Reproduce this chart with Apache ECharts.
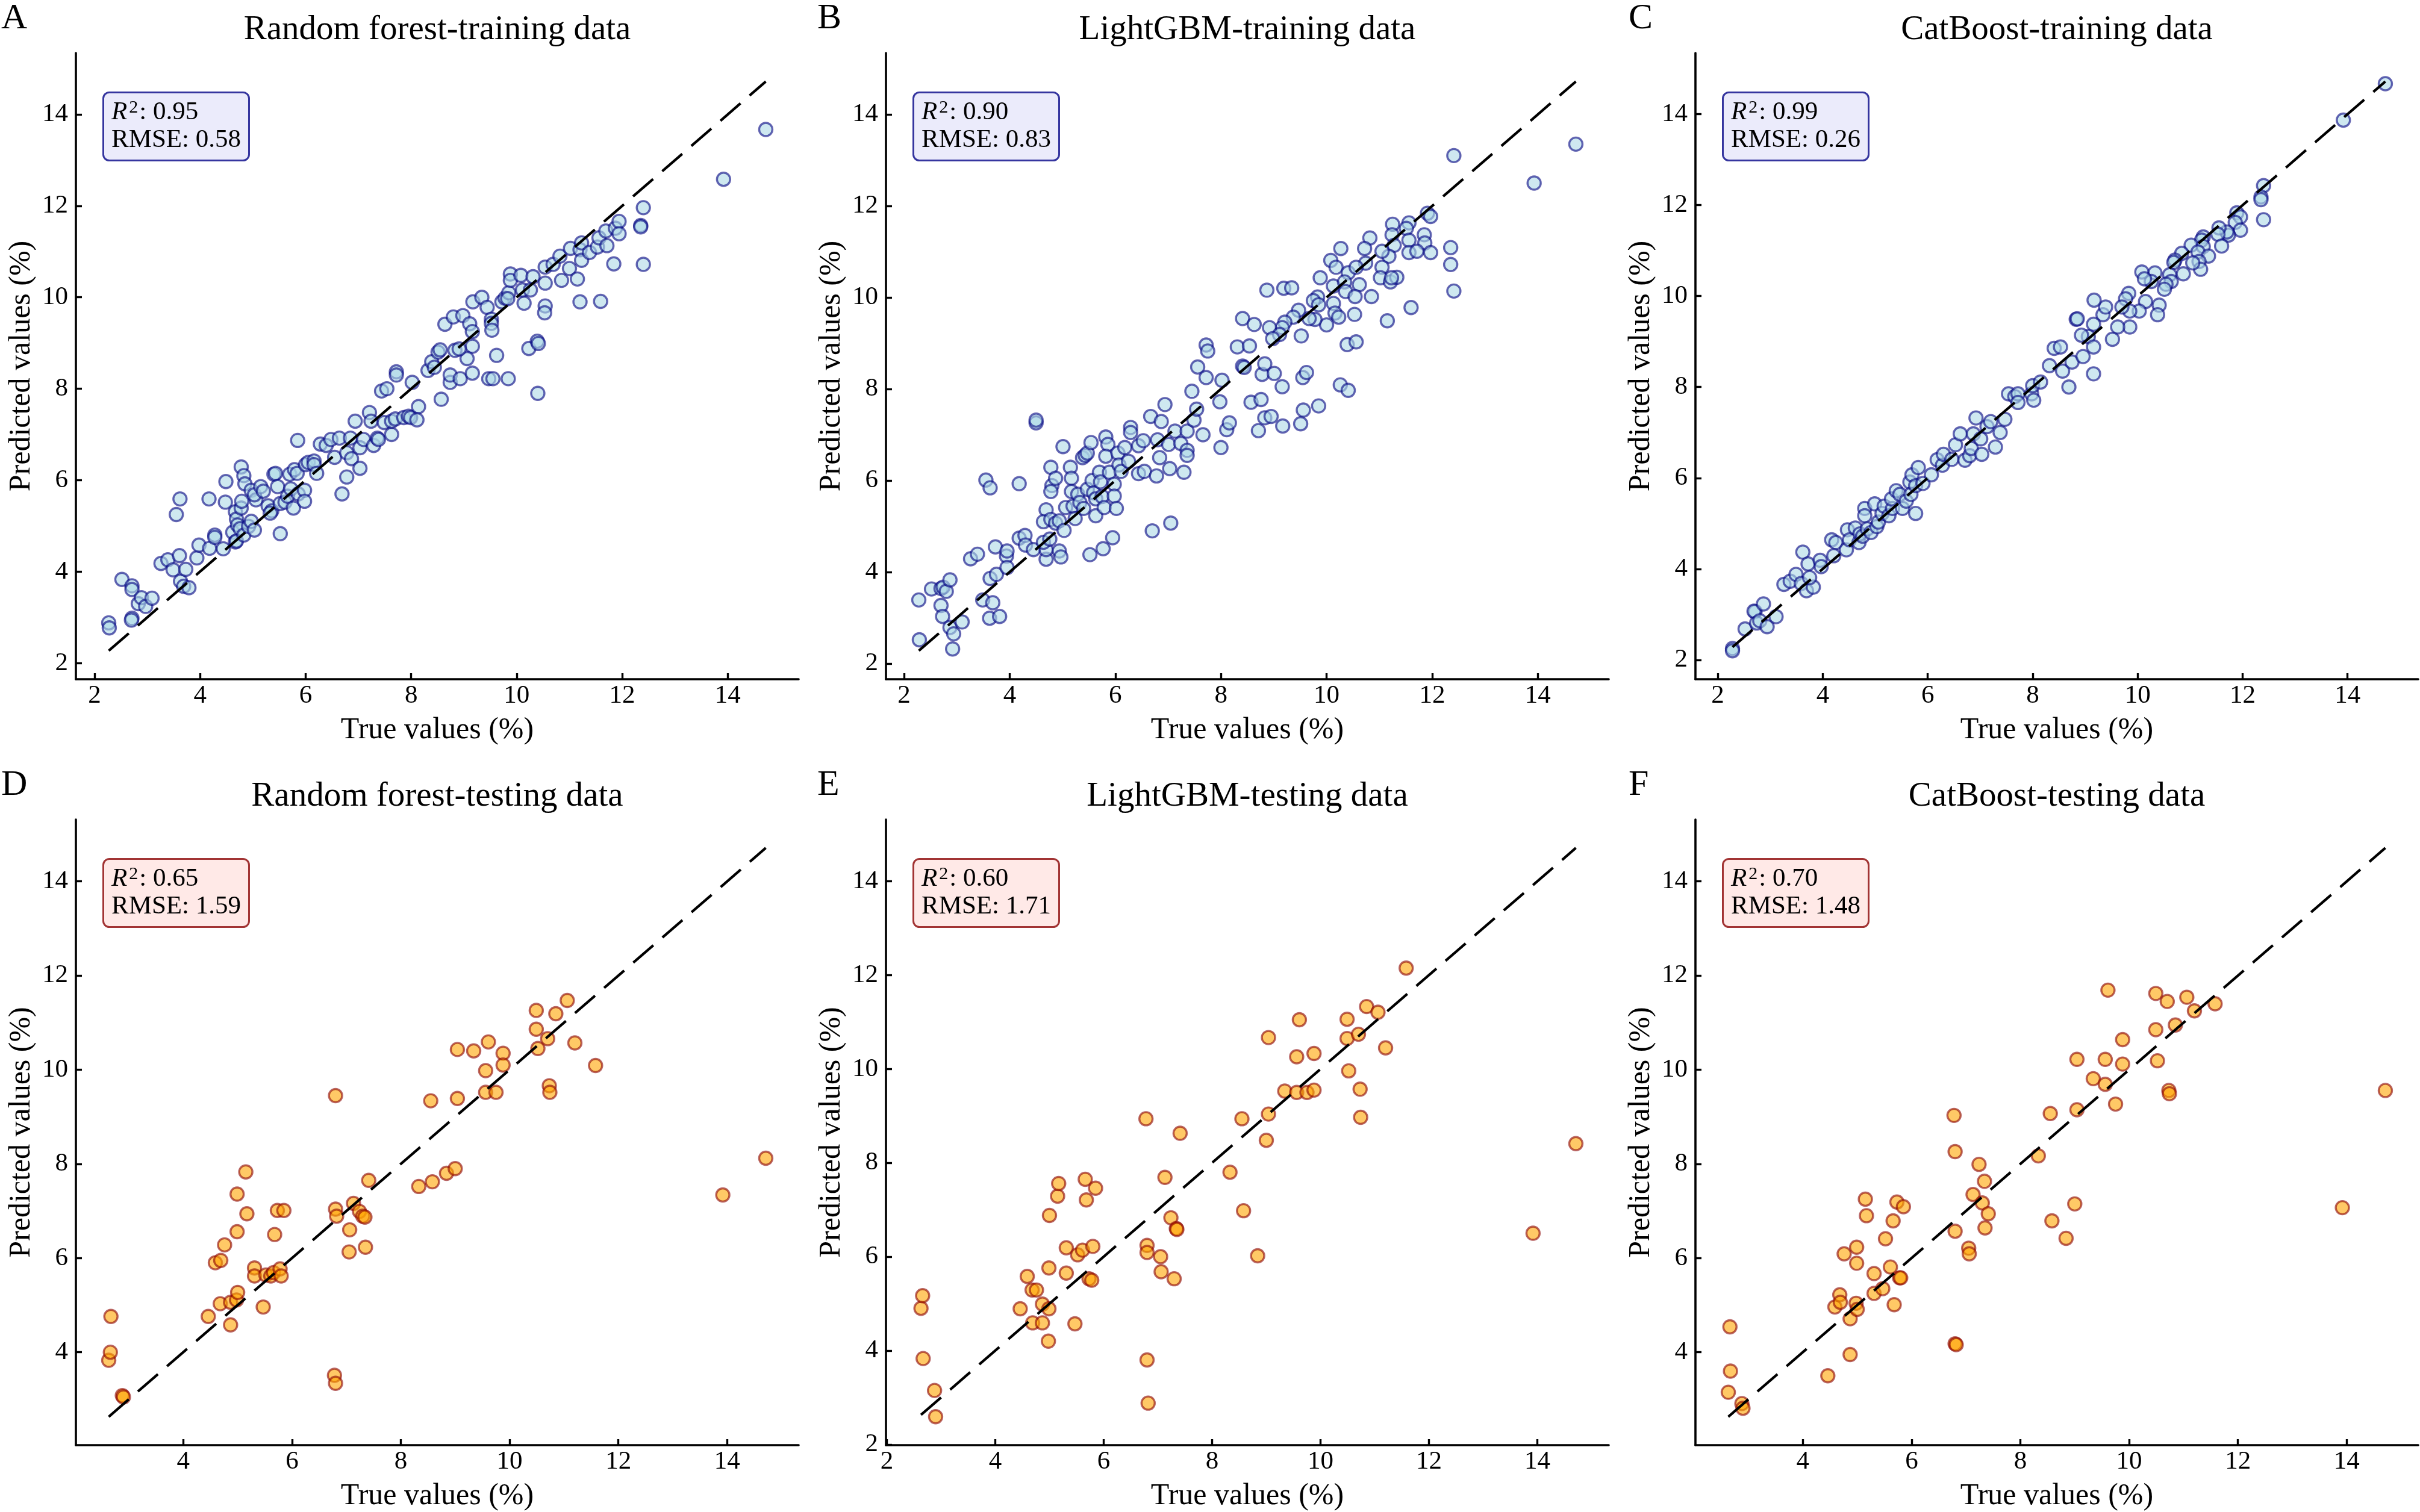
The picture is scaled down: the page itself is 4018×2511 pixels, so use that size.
<!DOCTYPE html>
<html>
<head>
<meta charset="utf-8">
<title>True vs predicted values</title>
<script src="https://cdn.jsdelivr.net/npm/echarts@6.0.0/dist/echarts.min.js"></script>
<style>
  html, body { margin: 0; padding: 0; background: #fff; }
  #chart { width: 4018px; height: 2511px; }
</style>
</head>
<body>
<div id="chart"></div>
<script>
// ---- data ----
var tickValues = [2, 4, 6, 8, 10, 12, 14];

var panelLetters = ['A', 'B', 'C', 'D', 'E', 'F'];
var panelTitles = [
  'Random forest-training data', 'LightGBM-training data', 'CatBoost-training data',
  'Random forest-testing data', 'LightGBM-testing data', 'CatBoost-testing data'
];
var r2Values = ['0.95', '0.90', '0.99', '0.65', '0.60', '0.70'];
var rmseValues = ['0.58', '0.83', '0.26', '1.59', '1.71', '1.48'];

// Random forest, training
var rfTrainTrue = [2.27,2.28,2.52,2.71,2.71,2.71,2.70,2.83,2.89,2.97,3.09,3.26,3.39,3.49,3.55,3.62,3.61,3.63,3.69,3.79,
  3.73,3.94,3.98,4.18,4.17,4.28,4.28,4.44,4.48,4.49,4.62,4.67,4.69,4.78,4.83,4.67,4.69,4.71,4.78,4.79,
  4.76,4.83,4.92,4.97,5.03,4.85,4.97,5.06,5.03,5.15,5.20,5.40,5.43,5.29,5.36,5.33,5.52,5.47,5.52,5.61,
  5.66,5.70,5.77,5.79,5.84,5.72,5.86,5.98,5.98,6.00,6.05,6.16,6.16,6.21,5.85,6.28,6.39,6.48,6.55,6.64,
  6.69,6.78,6.78,6.87,6.85,6.94,7.03,7.03,7.10,7.21,7.24,7.29,7.36,7.38,7.44,7.54,7.49,7.63,7.63,7.72,
  7.72,7.70,7.86,8.02,7.95,7.99,8.14,8.11,8.32,8.39,8.44,8.51,8.55,8.57,8.74,8.74,8.64,8.80,
  8.98,9.11,9.16,9.17,9.34,9.44,9.52,9.52,9.53,9.62,9.16,9.06,8.83,8.91,8.93,9.16,9.47,9.55,9.84,10.40,
  10.23,10.39,10.41,9.72,9.78,9.85,9.83,10.14,10.11,10.26,9.88,9.88,10.08,10.31,10.54,10.53,10.54,10.54,10.69,10.85,
  11.00,11.15,11.20,11.59,10.82,11.02,11.20,11.23,11.23,11.38,11.53,11.56,11.71,11.69,11.87,11.94,11.94,11.84,12.35,12.35,
  12.40,12.40,13.92,14.72];
var rfTrainPred = [2.88,2.77,3.83,3.69,3.61,2.98,2.94,3.30,3.43,3.24,3.42,4.18,4.26,4.04,5.25,5.59,4.35,3.79,3.68,3.65,
  4.05,4.30,4.58,4.51,5.59,4.80,4.75,4.50,5.52,5.97,4.86,4.65,4.67,6.29,6.10,5.31,5.15,5.02,5.39,5.54,
  4.94,4.80,4.99,5.10,4.91,5.92,5.78,5.57,5.68,5.86,5.76,6.13,6.15,5.44,5.33,5.28,4.83,5.86,5.49,5.52,
  5.65,6.13,5.39,6.23,6.15,5.81,5.70,5.78,5.54,6.34,6.39,6.42,6.34,6.15,6.87,6.79,6.76,6.89,6.50,6.92,
  5.70,6.07,6.60,6.47,6.92,7.29,6.26,6.71,6.89,7.48,7.29,6.76,6.92,6.89,7.95,8.00,7.26,7.00,7.29,8.37,
  8.30,7.34,7.37,8.14,7.40,7.37,7.61,7.32,8.40,8.59,8.47,8.80,8.85,7.77,8.14,8.30,9.41,9.57,
  9.60,9.42,9.25,9.90,10.00,9.78,9.52,9.43,9.28,8.73,8.93,8.66,8.84,8.87,8.22,8.34,8.22,8.22,8.22,7.90,
  8.88,9.04,8.99,9.90,9.98,10.10,9.97,9.87,10.16,10.16,10.51,10.37,10.48,10.45,9.81,9.66,10.31,10.66,10.72,10.37,
  10.63,10.40,9.90,9.91,10.90,11.07,11.04,11.19,10.81,10.98,11.10,11.30,11.13,11.45,11.51,11.66,11.39,10.73,11.57,11.54,
  11.96,10.72,12.58,13.67];

// LightGBM, training
var lgbTrainTrue = [2.29,2.28,2.52,2.70,2.74,2.80,2.87,2.70,2.73,2.87,2.94,2.92,3.10,3.26,3.39,3.49,3.55,3.63,3.63,3.68,
  3.62,3.81,3.73,3.75,3.94,3.95,3.95,4.18,4.18,4.29,4.30,4.45,4.50,4.50,4.69,4.64,4.69,4.69,4.64,4.76,
  4.78,4.78,4.80,4.78,4.87,4.94,4.97,4.87,4.94,5.03,5.06,5.01,5.15,5.17,5.17,5.20,5.24,5.29,5.33,5.38,
  5.43,5.47,5.40,5.47,5.52,5.54,5.56,5.59,5.63,5.63,5.70,5.72,5.75,5.77,5.79,5.82,5.86,5.82,5.89,5.98,
  5.98,6.02,5.95,6.05,6.07,6.11,6.18,6.25,6.29,6.29,6.44,6.44,6.55,6.53,6.67,6.70,6.78,6.80,6.84,6.87,
  6.94,7.03,7.01,7.05,7.13,7.24,7.36,7.36,7.30,7.36,7.45,7.49,7.54,7.66,7.56,7.72,7.72,7.75,7.98,8.00,
  8.02,8.11,8.16,8.31,8.41,8.54,8.41,8.44,8.57,8.71,8.76,8.63,8.78,8.83,
  14.72,13.93,12.41,12.35,12.35,12.41,11.91,11.97,11.56,11.51,11.25,11.24,11.28,11.85,11.86,11.56,11.56,11.71,11.97,11.18,
  11.05,10.82,10.72,10.74,11.05,11.02,11.21,11.33,11.23,11.15,11.60,10.27,10.08,10.18,10.41,10.56,9.88,10.13,10.34,10.62,
  10.36,10.54,10.85,10.53,8.87,9.19,9.34,9.83,9.75,9.85,10.13,10.16,10.23,10.00,9.78,9.67,9.47,9.37,9.21,9.16,
  8.92,9.11,8.98,9.52,10.39,10.56,8.83,9.01,9.16,9.55,9.62,10.26,10.41,9.85,9.56,9.51,9.17,8.95];
var lgbTrainPred = [2.52,3.39,3.63,3.64,3.67,3.58,3.83,3.27,3.03,2.79,2.65,2.32,2.91,4.29,4.39,3.39,6.01,5.84,3.86,3.33,
  2.99,3.03,4.55,3.95,4.35,4.46,4.10,5.93,4.74,4.80,4.59,4.49,7.26,7.32,5.36,5.10,4.28,4.49,4.65,4.72,
  5.15,6.29,5.89,5.76,6.05,4.46,4.33,5.07,5.12,4.91,5.41,6.74,6.29,6.05,5.76,5.44,5.17,5.70,5.52,6.50,
  6.55,6.60,5.39,5.81,4.38,6.83,6.00,5.73,5.23,5.60,6.18,5.97,5.65,4.51,5.41,6.95,6.79,6.53,6.18,5.92,
  5.66,5.39,4.75,6.60,6.34,6.20,6.72,6.42,7.16,7.05,6.76,6.15,6.20,6.87,7.40,4.90,6.10,6.89,6.50,7.29,
  7.66,6.26,6.79,5.07,7.08,6.81,6.66,6.55,6.18,7.08,7.95,7.32,7.56,7.00,8.48,8.25,8.96,8.83,7.72,6.72,
  8.19,7.11,7.26,8.92,9.54,8.94,8.50,8.47,7.71,7.09,7.77,9.41,8.32,7.37,
  13.35,12.50,13.10,11.09,10.72,10.14,11.84,11.77,11.63,11.51,11.60,11.37,11.14,11.37,11.19,11.25,10.98,11.01,10.98,10.90,
  11.01,11.30,11.07,10.75,10.66,10.43,10.34,10.44,10.43,9.49,9.78,11.07,10.81,10.66,10.54,10.66,10.43,10.25,10.34,10.28,
  10.13,10.02,10.02,9.63,10.16,10.20,10.21,10.01,9.93,9.84,9.87,9.66,9.57,9.40,9.52,9.54,9.72,9.57,9.46,9.34,
  9.34,9.19,9.10,9.16,8.97,9.03,8.55,8.34,8.05,8.25,8.36,8.09,7.97,7.63,7.54,7.24,7.19,7.40];

// CatBoost, training
var catTrainTrue = [2.28,2.28,2.52,2.71,2.69,2.87,2.74,2.80,2.94,3.11,3.26,3.38,3.49,3.62,3.59,3.69,3.82,3.72,3.75,3.95,
  3.97,4.17,4.25,4.21,4.45,4.47,4.51,4.62,4.69,4.71,4.76,4.80,4.80,4.85,4.92,4.99,5.03,5.06,5.13,5.17,
  5.26,5.33,5.31,5.40,5.47,5.52,5.59,5.66,5.70,5.68,5.77,5.77,5.82,5.91,6.07,6.18,6.28,6.30,6.46,6.53,
  6.62,6.71,6.80,6.83,6.92,6.87,7.01,7.03,7.13,7.20,7.29,7.38,7.47,7.54,7.66,7.72,7.72,7.98,8.00,8.15,
  8.02,8.32,8.41,8.53,8.57,8.69,8.75,8.83,
  12.40,12.35,12.35,12.40,11.89,11.96,11.86,11.96,11.73,11.70,11.55,11.53,11.60,11.25,11.22,11.02,11.25,11.15,11.35,11.17,
  11.20,11.05,10.84,10.71,10.69,10.87,10.61,10.64,10.54,10.51,10.33,10.26,10.08,10.13,10.15,10.41,10.38,10.03,9.85,9.83,
  9.77,9.70,9.85,9.62,9.52,9.34,9.39,9.17,8.85,9.16,9.06,9.16,8.93,9.16,8.96,13.92,14.72];
var catTrainPred = [2.25,2.20,2.68,3.06,3.07,3.23,2.81,2.86,2.73,2.95,3.66,3.73,3.88,4.37,3.68,3.52,3.60,4.11,3.81,4.19,
  4.05,4.64,4.58,4.29,4.42,4.86,4.64,4.90,4.58,4.77,4.72,5.33,5.17,4.88,4.80,5.43,4.93,5.03,5.22,5.38,
  5.17,5.33,5.54,5.72,5.64,5.33,5.49,5.91,6.07,5.64,5.22,5.83,6.23,5.88,6.07,6.40,6.28,6.52,6.41,6.73,
  6.97,6.39,6.49,6.65,7.32,6.97,6.86,6.52,7.13,7.24,6.68,7.00,7.29,7.85,7.79,7.85,7.66,7.85,8.03,8.11,
  7.71,8.47,8.85,8.88,8.35,8.00,8.55,9.49,
  12.43,12.18,12.12,11.68,11.83,11.74,11.62,11.45,11.34,11.41,11.50,11.36,11.10,11.30,11.23,11.12,11.09,10.97,10.88,10.76,
  10.59,10.73,10.94,10.79,10.74,10.49,10.47,10.32,10.26,10.15,10.51,10.32,10.53,10.38,9.88,9.80,9.59,9.67,9.67,10.06,
  9.94,9.76,9.32,9.32,9.05,9.59,9.76,9.91,9.50,9.38,9.11,8.88,9.14,8.29,8.67,13.87,14.67];

// testing set: the true values are shared by the three models
var testTrue = [2.63,2.66,2.67,2.88,2.90,4.46,4.59,4.68,4.69,4.76,4.87,4.87,4.98,4.99,4.99,5.00,5.15,5.17,5.31,5.31,
  5.47,5.52,5.61,5.66,5.68,5.73,5.78,5.80,5.85,6.78,6.80,6.80,6.80,6.82,7.05,7.06,7.13,7.24,7.30,7.34,
  7.35,7.41,8.33,8.55,8.58,8.84,9.00,9.04,9.04,9.34,9.56,9.56,9.61,9.75,9.88,9.88,10.49,10.49,10.52,10.70,
  10.73,10.74,10.85,11.06,11.20,11.58,13.92,14.71];
var rfTestPred = [3.83,4.00,4.76,3.08,3.05,4.76,5.90,5.03,5.95,6.28,4.58,5.06,5.11,6.56,7.36,5.27,7.83,6.94,5.79,5.62,
  4.96,5.64,5.62,5.69,6.50,7.01,5.77,5.62,7.01,3.51,9.45,7.04,3.34,6.89,6.13,6.60,7.16,6.99,6.89,6.87,
  6.23,7.65,7.52,9.34,7.62,7.80,7.90,9.39,10.43,10.40,9.98,9.52,10.59,9.52,10.35,10.10,11.26,10.86,10.45,10.66,
  9.66,9.52,11.19,11.47,10.57,10.09,7.34,8.12];
var lgbTestPred = [4.90,5.17,3.83,3.15,2.59,4.89,5.58,5.29,4.59,5.29,4.99,4.59,4.20,4.89,5.76,6.88,7.29,7.56,6.19,5.65,
  4.57,6.04,6.14,7.65,7.21,5.53,5.50,6.22,7.46,8.94,6.24,6.09,3.80,2.88,6.00,5.68,7.69,6.83,5.53,6.60,
  6.58,8.63,7.80,8.94,6.98,6.02,8.48,9.04,10.67,9.53,10.26,9.50,11.05,9.50,9.55,10.33,11.06,10.65,9.96,10.74,
  9.57,8.97,11.33,11.21,10.45,12.15,6.50,8.41];
var catTestPred = [3.15,4.54,3.60,2.91,2.81,3.50,4.96,5.22,5.06,6.09,4.71,3.95,5.04,6.23,5.89,4.91,7.25,6.90,5.67,5.25,
  5.35,6.41,5.81,6.79,5.01,7.19,5.58,5.58,7.09,9.03,8.26,6.57,4.18,4.16,6.21,6.09,7.35,7.99,7.17,7.63,
  6.64,6.94,8.17,9.07,6.79,6.42,7.15,9.15,10.22,9.81,10.22,9.69,11.69,9.27,10.12,10.64,11.62,10.85,10.19,11.45,
  9.56,9.49,10.95,11.54,11.25,11.40,7.07,9.56];

var panelX = [rfTrainTrue, lgbTrainTrue, catTrainTrue, testTrue, testTrue, testTrue];
var panelY = [rfTrainPred, lgbTrainPred, catTrainPred, rfTestPred, lgbTestPred, catTestPred];

// ---- layout / style ----
var FONT = 'Liberation Serif';
var colLeft = [126, 1471, 2815];
var letterLeft = [2, 1357, 2704];
var rowTop = [88, 1361];
var GRID_W = 1200, GRID_H = 1040;

var looks = {
  train: { fill: '#add8e6', edge: '#000080', boxFill: '#ebebfb', boxEdge: '#35359f' },
  test:  { fill: '#ffa500', edge: '#8b0000', boxFill: '#ffe9e7', boxEdge: '#a23434' }
};

function axisCommon(ticks, name, isX) {
  return {
    type: 'value',
    name: name,
    nameLocation: 'middle',
    nameGap: isX ? 60 : 65,
    nameTextStyle: { fontFamily: FONT, fontSize: 50, color: '#000' },
    axisLine: { show: true, onZero: false, lineStyle: { color: '#000', width: 3.6 } },
    axisTick: { show: true, inside: true, length: 10, customValues: ticks, lineStyle: { color: '#000', width: 3.4 } },
    axisLabel: { show: true, customValues: ticks, margin: isX ? 6 : 13, fontFamily: FONT, fontSize: 43, color: '#000' },
    splitLine: { show: false }
  };
}

var grids = [], xAxes = [], yAxes = [], series = [], titles = [], graphics = [];

panelX.forEach(function (xs, i) {
  var ys = panelY[i];
  var col = i % 3, row = Math.floor(i / 3);
  var left = colLeft[col], top = rowTop[row];
  var look = row === 0 ? looks.train : looks.test;

  var all = xs.concat(ys);
  var lo = Math.min.apply(null, all), hi = Math.max.apply(null, all);
  var pad = (hi - lo) * 0.05;
  var min = lo - pad, max = hi + pad;
  var ticks = tickValues.filter(function (v) { return v >= min && v <= max; });

  grids.push({ left: left, top: top, width: GRID_W, height: GRID_H });

  var xa = axisCommon(ticks, 'True values (%)', true);
  xa.gridIndex = i; xa.min = min; xa.max = max;
  xAxes.push(xa);
  var ya = axisCommon(ticks, 'Predicted values (%)', false);
  ya.gridIndex = i; ya.min = min; ya.max = max;
  yAxes.push(ya);

  series.push({
    type: 'scatter',
    xAxisIndex: i, yAxisIndex: i,
    symbol: 'circle',
    symbolSize: 22,
    data: xs.map(function (v, k) { return [v, ys[k]]; }),
    itemStyle: { color: look.fill, borderColor: look.edge, borderWidth: 3.4, opacity: 0.6 },
    z: 2
  });

  var tMin = Math.min.apply(null, xs), tMax = Math.max.apply(null, xs);
  series.push({
    type: 'line',
    xAxisIndex: i, yAxisIndex: i,
    data: [[tMin, tMin], [tMax, tMax]],
    symbol: 'none',
    silent: true,
    lineStyle: { color: '#000', width: 4.3, type: [44, 20] },
    z: 3
  });

  titles.push({
    text: '{i|R}{s|2}: ' + r2Values[i] + '\nRMSE: ' + rmseValues[i],
    left: left + 45,
    top: top + 65,
    padding: [11, 14, 11, 14],
    backgroundColor: look.boxFill,
    borderColor: look.boxEdge,
    borderWidth: 3,
    borderRadius: 10,
    textStyle: {
      fontFamily: FONT, fontSize: 43, fontWeight: 'normal', color: '#000', lineHeight: 46,
      rich: {
        i: { fontFamily: FONT, fontSize: 43, fontStyle: 'italic', color: '#000', lineHeight: 46 },
        s: { fontFamily: FONT, fontSize: 30, color: '#000', lineHeight: 36, verticalAlign: 'top', padding: [0, 2, 0, 3] }
      }
    }
  });

  graphics.push({
    type: 'text', silent: true,
    x: left + GRID_W / 2, y: top - 38,
    style: { text: panelTitles[i], fill: '#000', font: '57px "' + FONT + '"', textAlign: 'center', textVerticalAlign: 'middle' }
  });
  graphics.push({
    type: 'text', silent: true,
    x: letterLeft[col], y: top - 57,
    style: { text: panelLetters[i], fill: '#000', font: '60px "' + FONT + '"', textAlign: 'left', textVerticalAlign: 'middle' }
  });
});

var chart = echarts.init(document.getElementById('chart'), null, { width: 4018, height: 2511 });
chart.setOption({
  backgroundColor: '#ffffff',
  animation: false,
  textStyle: { fontFamily: FONT },
  title: titles,
  grid: grids,
  xAxis: xAxes,
  yAxis: yAxes,
  series: series,
  graphic: graphics
});
</script>
</body>
</html>
